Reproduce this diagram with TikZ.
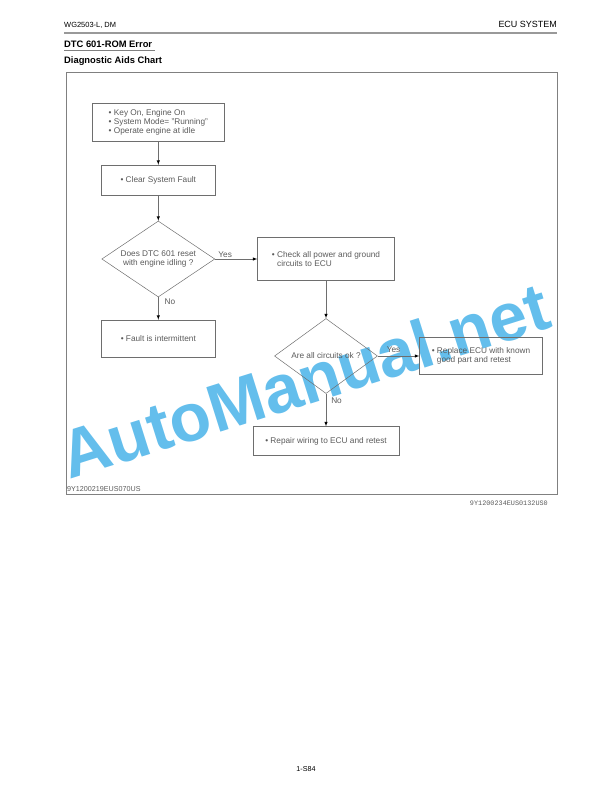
\documentclass[tikz,border=0pt]{standalone}
\usepackage{fontspec}
\setmainfont{Liberation Sans}
\setmonofont{Liberation Mono}
\usepackage{tikz}
\usetikzlibrary{shapes.geometric}
\definecolor{linegray}{RGB}{110,110,110}
\definecolor{textgray}{RGB}{90,90,90}
\definecolor{markblue}{RGB}{100,190,236}
\tikzset{every node/.style={align=left}, >= latex, font=\fontsize{8.3}{9.3}\selectfont,
  stepbox/.style={rectangle, draw=linegray, line width=0.5pt, text=textgray, inner sep=0pt},
  askbox/.style={diamond, draw=linegray, line width=0.5pt, text=textgray, inner sep=0pt, align=center, aspect=1.5},
  tag/.style={text=textgray, inner sep=1pt}}
\newcommand{\bul}{\textbullet\ }

\begin{document}
\begin{tikzpicture}[x=1bp, y=-1bp, node distance=80bp]
\useasboundingbox (0,0) rectangle (612,792);
% watermark
\node[text=markblue, font=\fontsize{68}{68}\bfseries\selectfont, rotate=17.5, anchor=base west, inner sep=0pt] (mark) at (69,480) {AutoManual.net};
% page head
\node[anchor=base west, inner sep=0pt, font=\fontsize{7.5}{9}\selectfont] (model) at (64,27.5) {WG2503-L, DM};
\node[anchor=base east, inner sep=0pt, font=\fontsize{9}{11}\selectfont] (section) at (557,28) {ECU SYSTEM};
\draw[gray!80, line width=1.2pt] (64,33) -- (557,33);
\node[anchor=base west, inner sep=0pt, font=\fontsize{9.4}{11}\bfseries\selectfont] (title) at (64,47.8) {DTC 601-ROM Error};
\draw[gray, line width=0.8pt] (64,50.6) -- ([xshift=3bp]title.east |- 0,50.6);
\node[anchor=base west, inner sep=0pt, font=\fontsize{9.4}{11}\bfseries\selectfont] (chart) at (64,63.6) {Diagnostic Aids Chart};
\draw[gray, line width=1pt] (66,72) rectangle (557,494);

% chart
\node[stepbox, minimum width=132bp, minimum height=38bp] (b1) at (158.3,122.5) {\bul Key On, Engine On\\ \bul System Mode= "Running"\\ \bul Operate engine at idle};
\node[stepbox, minimum width=114bp, minimum height=30bp] (b2) [below of = b1, node distance=57.5bp] {\bul Clear System Fault};
\node[askbox, minimum width=113bp, minimum height=76bp] (d1) [below of = b2, node distance=79bp] {Does DTC 601 reset\\ with engine idling ?};
\node[stepbox, minimum width=114bp, minimum height=37bp] (b6) [below of = d1, node distance=79.5bp] {\bul Fault is intermittent};
\node[stepbox, minimum width=137bp, minimum height=43bp] (b3) [right of = d1, node distance=167.7bp] {\bul Check all power and ground\\ \phantom{\bul}circuits to ECU};
\node[askbox, minimum width=103bp, minimum height=75bp] (d2) [below of = b3, node distance=97bp] {Are all circuits ok ?};
\node[stepbox, minimum width=123bp, minimum height=37bp] (b4) [right of = d2, node distance=155bp] {\bul Replace ECU with known\\ \phantom{\bul}good part and retest};
\node[stepbox, minimum width=146bp, minimum height=29bp] (b5) [below of = d2, node distance=85bp] {\bul Repair wiring to ECU and retest};
\path[->, draw=linegray, line width=0.5pt] (b1) edge (b2)
    (b2) edge (d1)
    (d1) edge node[tag, above, pos=0.24] {Yes} (b3)
    (d1) edge node[tag, anchor=west, xshift=5bp, pos=0.2] {No} (b6)
    (b3) edge (d2)
    (d2) edge node[tag, above, pos=0.38, yshift=2bp] {Yes} (b4)
    (d2) edge node[tag, anchor=west, xshift=4bp, pos=0.2] {No} (b5);

% codes
\node[anchor=base west, inner sep=0pt, text=textgray, font=\fontsize{7.2}{9}\selectfont] (figcode) at (67,491.7) {9Y1200219EUS070US};
\node[anchor=base east, inner sep=0pt, text=textgray, font=\fontsize{6.85}{8}\ttfamily] (pagecode) at (548,505.5) {9Y1200234EUS0132US0};
\node[anchor=base, inner sep=0pt, font=\fontsize{7.2}{9}\selectfont] (pageno) at (306,771.7) {1-S84};
\end{tikzpicture}
\end{document}
